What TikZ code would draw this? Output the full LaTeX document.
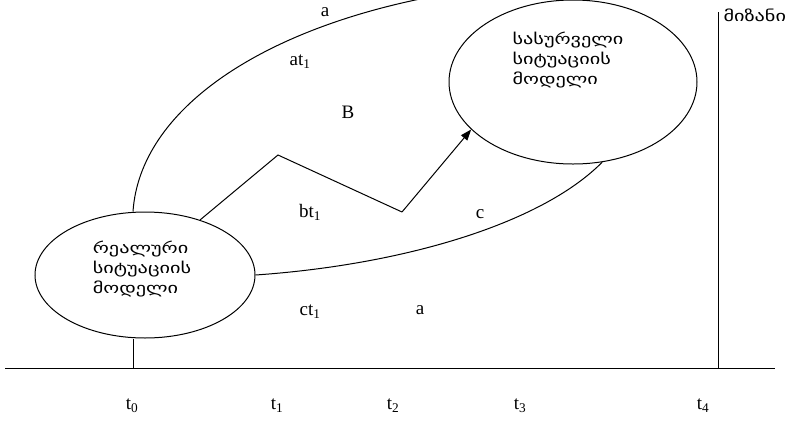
\documentclass[tikz,border=0pt]{standalone}
\usepackage{fontspec}
\setmainfont{Liberation Serif}
\newfontfamily\geofont[FakeStretch=1.35]{DejaVu Sans}
\usepackage{tikz}
\usetikzlibrary{positioning,arrows.meta,shapes.geometric}

\begin{document}
\begin{tikzpicture}[x=1pt,y=-1pt,line width=1pt,
		oval/.style={draw,ellipse,inner sep=0pt},
		geo/.style={font=\geofont\fontsize{15}{20}\selectfont,align=left,inner sep=0pt},
		lbl/.style={font=\fontsize{19}{22}\selectfont,inner sep=0pt}]
				\useasboundingbox (0,0) rectangle (812,421);
				\clip (0,0) rectangle (812,421);
				
				\node[oval,minimum width=220pt,minimum height=126pt] (real) at (145,275) {};
				\node[oval,minimum width=248pt,minimum height=164pt] (goalm) at (573,82) {};
				\node[geo] (realtxt) at (142,269) {რეალური\\სიტუაციის\\მოდელი};
				\node[geo] (goaltxt) at (568,60) {სასურველი\\სიტუაციის\\მოდელი};
				\node[geo,anchor=west] (goal) at (723,15) {მიზანი};
				
				\coordinate (bl) at (5,368);
				\coordinate (br) at (775,368);
				\coordinate (ax0) at (133,368);
				\coordinate (ax4) at (718,368);
				\coordinate (goaltop) at (718,12);
				\coordinate (topend) at (430,-3);
				\coordinate (peak) at (278,155);
				\coordinate (valley) at (402,212);
				
				\draw (bl) -- (br);
				\draw (ax0) -- (ax0 |- real.south);
				\draw (ax4) -- (goaltop);
				\draw (ax0 |- real.north) .. controls (140,110) and (260,30) .. (topend);
				\draw (real.45) -- (peak) -- (valley);
				\draw[-{Triangle[length=11pt,width=8pt]}] (valley) -- (goalm.205);
				\draw (real.east) .. controls (400,265) and (540,225) .. (goalm.290);
				
				\node[lbl] (la) at (325,12) {a};
				\node[lbl] (lat) at (300,62) {at\textsubscript{1}};
				\node[lbl] (lB) at (348,112) {B};
				\node[lbl] (lbt) at (310,212) {bt\textsubscript{1}};
				\node[lbl] (lc) at (480,214) {c};
				\node[lbl] (lct) at (310,312) {ct\textsubscript{1}};
				\node[lbl] (la2) at (420,310) {a};
				
				\node[lbl] (t0) at (132,406) {t\textsubscript{0}};
				\node[lbl] (t1) at (277,406) {t\textsubscript{1}};
				\node[lbl] (t2) at (393,406) {t\textsubscript{2}};
				\node[lbl] (t3) at (520,406) {t\textsubscript{3}};
				\node[lbl] (t4) at (703,406) {t\textsubscript{4}};
			\end{tikzpicture}
\end{document}
